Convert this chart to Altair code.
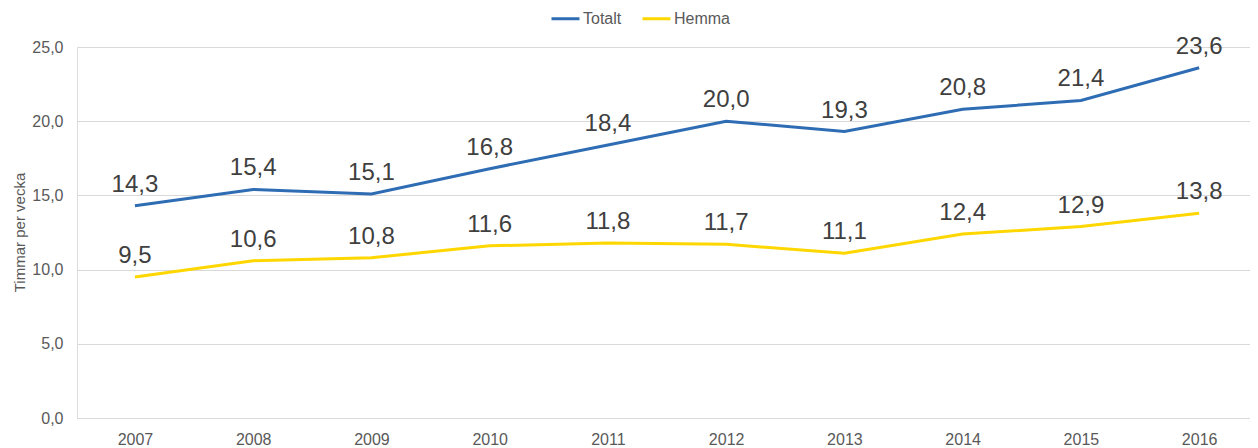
import altair as alt
import pandas as pd

years = [2007, 2008, 2009, 2010, 2011, 2012, 2013, 2014, 2015, 2016]
totalt = [14.3, 15.4, 15.1, 16.8, 18.4, 20.0, 19.3, 20.8, 21.4, 23.6]
hemma = [9.5, 10.6, 10.8, 11.6, 11.8, 11.7, 11.1, 12.4, 12.9, 13.8]
series_names = ["Totalt", "Hemma"]
series_colors = ["#2E6DB4", "#FFD700"]
y_ticks = [0, 5, 10, 15, 20, 25]

rows = []
for name, vals in zip(series_names, [totalt, hemma]):
    for yr, v in zip(years, vals):
        rows.append({"year": yr, "value": v, "series": name})
df = pd.DataFrame(rows)

FONT = "Liberation Sans"

x = alt.X(
    "year:Q",
    scale=alt.Scale(domain=[2006.51, 2016.43], nice=False, zero=False),
    axis=alt.Axis(
        values=years, format="d", title=None, grid=False, ticks=False,
        domain=False, labelFontSize=16, labelColor="#595959", labelPadding=13,
        labelFont=FONT,
    ),
)
y = alt.Y(
    "value:Q",
    scale=alt.Scale(domain=[0, 25], nice=False),
    axis=alt.Axis(
        values=y_ticks, title="Timmar per vecka", grid=True, gridColor="#D9D9D9",
        gridWidth=1, ticks=False, domain=False, labelFontSize=16,
        labelColor="#595959", labelPadding=14, labelFont=FONT,
        labelExpr="replace(format(datum.value, '.1f'), '.', ',')",
        titleFontSize=15, titleFontWeight="normal", titleColor="#595959",
        titleFont=FONT, titleX=-58, titleY=185, titleBaseline="middle",
        titleAngle=270,
    ),
)
color = alt.Color(
    "series:N",
    scale=alt.Scale(domain=series_names, range=series_colors),
    sort=series_names,
    legend=alt.Legend(
        title=None, orient="none", legendX=473, legendY=-44, direction="horizontal",
        symbolType="stroke", symbolSize=784, symbolStrokeWidth=3,
        labelFontSize=16, labelColor="#595959", labelFont=FONT, labelOffset=2,
        columnPadding=14, padding=0,
    ),
)

base = alt.Chart(df)
lines = base.mark_line(strokeWidth=3).encode(x=x, y=y, color=color, detail="series:N")
labels = base.transform_calculate(
    lab="replace(format(datum.value, '.1f'), '.', ',')"
).mark_text(
    dy=-14, baseline="alphabetic", align="center", fontSize=24, color="#404040", font=FONT
).encode(x=x, y=y, text="lab:N")

chart = (lines + labels).properties(
    width=1173, height=371,
    autosize=alt.AutoSizeParams(type="none"),
    padding={"left": 69, "top": 39, "right": 0, "bottom": 30},
).configure_view(stroke=None).configure(background="white")

chart.save("out.html", embed_options={"renderer": "svg", "actions": False})
